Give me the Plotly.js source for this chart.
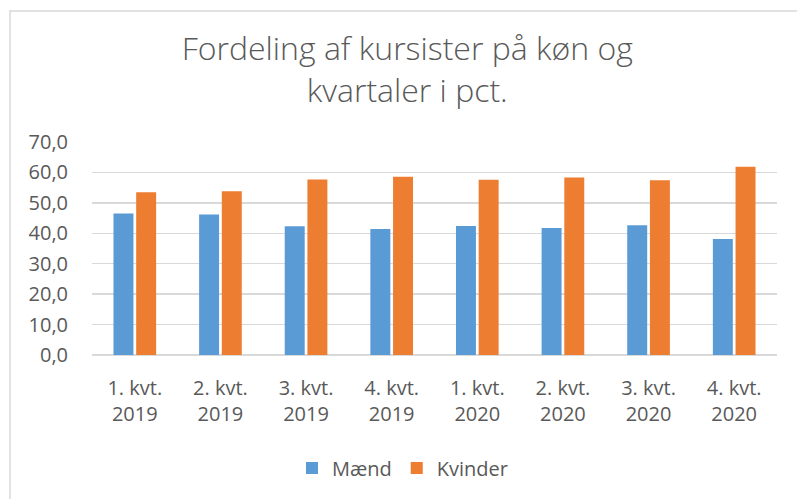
<!DOCTYPE html>
<html>
<head>
<meta charset="utf-8">
<script src="https://cdn.plot.ly/plotly-3.0.1.min.js"></script>
<style>
  html, body { margin: 0; padding: 0; background: #ffffff; }
  #chart { width: 797px; height: 499px; }
</style>
</head>
<body>
<div id="chart"></div>
<script>
const categories = ["1. kvt.<br>2019", "2. kvt.<br>2019", "3. kvt.<br>2019", "4. kvt.<br>2019",
                    "1. kvt.<br>2020", "2. kvt.<br>2020", "3. kvt.<br>2020", "4. kvt.<br>2020"];
const maend   = [46.5, 46.2, 42.3, 41.4, 42.4, 41.7, 42.6, 38.1];
const kvinder = [53.5, 53.8, 57.7, 58.6, 57.6, 58.3, 57.4, 61.9];
const seriesNames = ["Mænd", "Kvinder"];
const titleText = "Fordeling af kursister på køn og<br>kvartaler i pct.";

const textColor = "#595959";
const gridColor = "#d9d9d9";

const traces = [
  { type: "bar", name: seriesNames[0], x: categories, y: maend,
    marker: { color: "#5B9BD5" }, hoverinfo: "y+name" },
  { type: "bar", name: seriesNames[1], x: categories, y: kvinder,
    marker: { color: "#ED7D31" }, hoverinfo: "y+name" }
];

const layout = {
  width: 797, height: 499, autosize: false,
  paper_bgcolor: "#ffffff", plot_bgcolor: "#ffffff",
  margin: { l: 92, r: 20, t: 142, b: 144 },
  separators: ",.",
  font: { family: "Open Sans, sans-serif", color: textColor, size: 20 },
  title: {
    text: titleText,
    font: { family: "Open Sans, sans-serif", size: 32, color: textColor, weight: 300 },
    xref: "container", x: 0.511, xanchor: "center",
    yref: "container", y: 1 - 60/499, yanchor: "top"
  },
  barmode: "group", bargap: 0.47, bargroupgap: 0.12,
  xaxis: {
    type: "category", showgrid: false, zeroline: false,
    showline: false, ticks: "", ticklabelstandoff: 19,
    tickfont: { size: 20, color: textColor }
  },
  yaxis: {
    range: [0, 70], dtick: 10, tick0: 0, tickformat: ".1f",
    showgrid: true, gridcolor: gridColor, gridwidth: 1.5,
    zeroline: true, zerolinecolor: gridColor, zerolinewidth: 1.5,
    showline: false, ticks: "", ticklabelstandoff: 23,
    tickfont: { size: 20, color: textColor }
  },
  showlegend: true,
  legend: {
    orientation: "h", xref: "container", yref: "container",
    x: 0.505, xanchor: "center", y: 31/499, yanchor: "middle",
    font: { size: 20, color: textColor }, traceorder: "normal"
  },
  shapes: [{
    type: "rect", xref: "paper", yref: "paper",
    x0: (10 - 92) / 685, x1: (806 - 92) / 685,
    y0: (355 - 510) / 213, y1: (355 - 11) / 213,
    line: { color: gridColor, width: 1.5 }, fillcolor: "rgba(0,0,0,0)", layer: "below"
  }]
};

Plotly.newPlot("chart", traces, layout, { displayModeBar: false, staticPlot: true });
</script>
</body>
</html>
